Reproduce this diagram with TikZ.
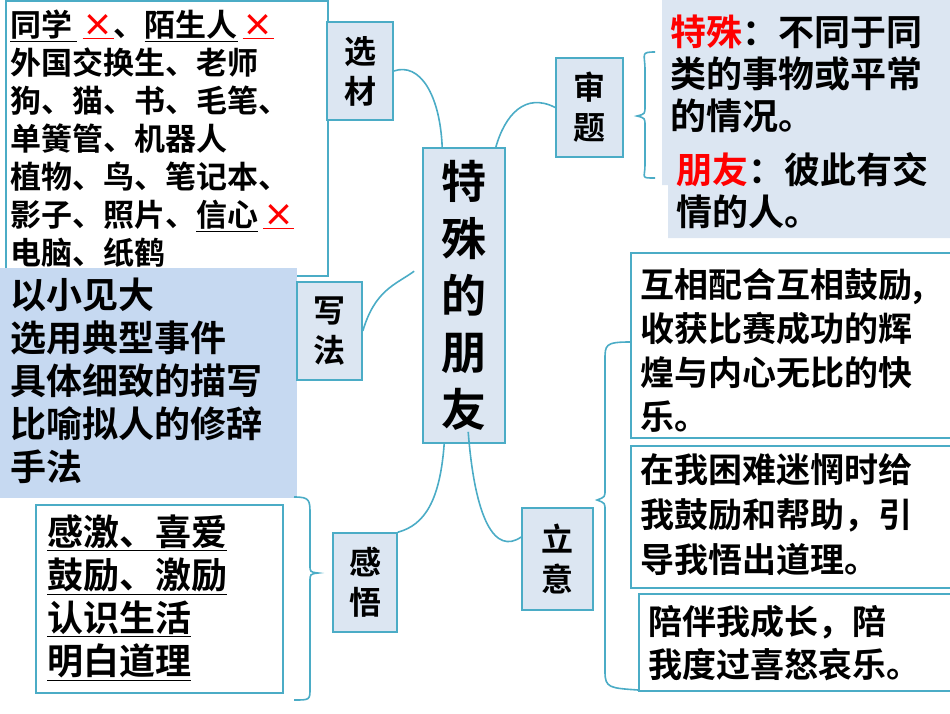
\documentclass[tikz,border=0pt]{standalone}
\usepackage{fontspec}
\setmainfont{Noto Sans CJK SC Bold}
\definecolor{tealb}{HTML}{4BACC6}
\definecolor{lfill}{HTML}{DCE6F2}
\definecolor{dfill}{HTML}{C6D9F1}
\definecolor{xred}{HTML}{FF0000}
\newcommand{\fs}[2]{\fontsize{#1}{#2}\selectfont}
\newcommand{\xm}{\textcolor{xred}{\underline{×}}}
\begin{document}
\begin{tikzpicture}[x=1pt,y=-1pt,
  tag/.style={draw=tealb,line width=1.6pt,fill=lfill,inner sep=0pt,align=center,font=\fs{32}{40}},
  listbox/.style={draw=tealb,line width=1.6pt,fill=white},
  txt/.style={anchor=north west,inner sep=0pt,align=left},
  link/.style={draw=tealb,line width=1.6pt}]
\useasboundingbox (0,0) rectangle (950,713);
% top-left list
\node[listbox,minimum width=322,minimum height=275,anchor=north west,inner sep=0pt] (lst) at (5,0) {};
\node[txt,font=\fs{31}{38}] (lstt) at (10,10) {\underline{同学\,}\,\xm、\underline{陌生人}\,\xm\\外国交换生、老师\\狗、猫、书、毛笔、\\单簧管、机器人\\植物、鸟、笔记本、\\影子、照片、\underline{信心}\,\xm\\电脑、纸鹤};
% xiefa text
\node[fill=dfill,minimum width=297,minimum height=230,anchor=north west,inner sep=0pt] (xft) at (0,268) {};
\node[txt,font=\fs{36}{43}] at (10,278) {以小见大\\选用典型事件\\具体细致的描写\\比喻拟人的修辞\\手法};
% tags
\node[tag,minimum width=66,minimum height=98] (xc) at (360,71) {选\\材};
\node[tag,minimum width=65,minimum height=98] (xf) at (329.5,331) {写\\法};
\node[tag,minimum width=64,minimum height=99] (gw) at (365,582.5) {感\\悟};
\node[tag,minimum width=67,minimum height=99] (st) at (589.5,107.5) {审\\题};
\node[tag,minimum width=71,minimum height=102] (ly) at (557.5,559) {立\\意};
\node[tag,minimum width=82,minimum height=295,font=\fs{45}{57}] (ct) at (464,295.5) {特\\殊\\的\\朋\\友};
% ganwu list
\node[listbox,minimum width=247,minimum height=188,anchor=north west,inner sep=0pt] (gl) at (35,504) {};
\node[txt,font=\fs{36}{43}] at (47,515) {\underline{感激、喜爱}\\\underline{鼓励、激励}\\\underline{认识生活}\\\underline{明白道理}};
% shenti text
\fill[lfill] (662,0) rectangle (950,185) (668,185) rectangle (950,238);
\node[txt,font=\fs{36}{42}] (stt) at (670,15) {\textcolor{xred}{特殊}：不同于同\\类的事物或平常\\的情况。};
\node[txt,font=\fs{36}{42}] at (676,152) {\textcolor{xred}{朋友}：彼此有交\\情的人。};
% right boxes
\node[listbox,minimum width=320,minimum height=185,anchor=north west,inner sep=0pt] (r1) at (630,252) {};
\node[txt,font=\fs{34}{44}] at (640,268) {互相配合互相鼓励,\\收获比赛成功的辉\\煌与内心无比的快\\乐。};
\node[listbox,minimum width=320,minimum height=142,anchor=north west,inner sep=0pt] (r2) at (630,445) {};
\node[txt,font=\fs{34}{45}] at (640,453) {在我困难迷惘时给\\我鼓励和帮助，引\\导我悟出道理。};
\node[listbox,minimum width=312,minimum height=97,anchor=north west,inner sep=0pt] (r3) at (638,593) {};
\node[txt,font=\fs{34}{43}] at (648,605) {陪伴我成长，陪\\我度过喜怒哀乐。};
% braces
\draw[link] (655,52) .. controls (640,52) and (645,54) .. (645,70) -- (645,106) .. controls (645,114) .. (637,116) .. controls (645,118) .. (645,126) -- (645,165) .. controls (645,178) and (640,178) .. (655,178);
\draw[link] (294,497) .. controls (310,497) and (310,500) .. (310,515) -- (310,565) .. controls (310,572) .. (318,573) .. controls (310,574) .. (310,582) -- (310,688) .. controls (310,700) and (310,700) .. (294,700);
\draw[link] (630,342) .. controls (605,342) and (605,345) .. (605,360) -- (605,490) .. controls (605,497) .. (597,500) .. controls (605,503) .. (605,510) -- (605,672) .. controls (605,688) and (610,688) .. (638,690);
% connectors
\draw[link] (ct.north west)++(20,0) coordinate (c1) .. controls (440,95) and (420,62) .. (xc.east);
\draw[link] (ct.north east)++(-10,0) coordinate (c2) .. controls (505,115) and (525,92) .. (st.west);
\draw[link] (xf.east) .. controls (375,290) and (395,285) .. ([xshift=-8pt,yshift=10pt]ct.west|-xf.north);
\draw[link] ([xshift=22pt]ct.south west) .. controls (440,500) and (425,525) .. (gw.north east);
\draw[link] ([xshift=46pt,yshift=12pt]ct.south west) .. controls (475,520) and (495,555) .. ([yshift=22pt]ly.west);
\end{tikzpicture}
\end{document}
